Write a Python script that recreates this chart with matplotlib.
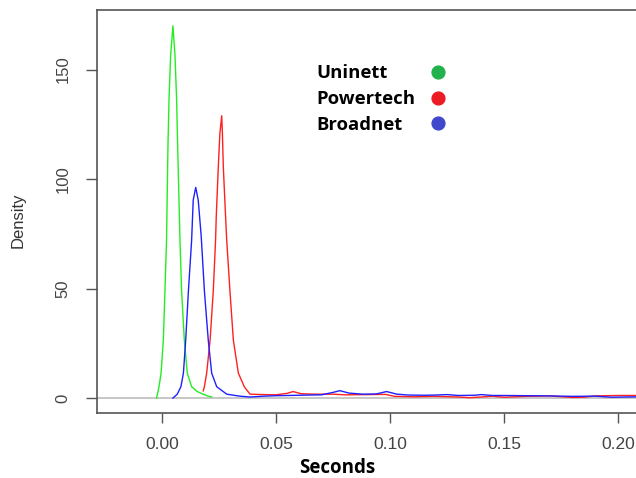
import matplotlib.pyplot as plt

# density curves (seconds, density)
uninett_x = [-0.0024, -0.0020, -0.0013, -0.0004, 0.0006, 0.0013, 0.0020, 0.0026, 0.0031,
             0.0038, 0.0048, 0.0057, 0.0064, 0.0069, 0.0079, 0.0086, 0.0098, 0.0111,
             0.0130, 0.0155, 0.0180, 0.0200, 0.0218]
uninett_y = [0, 1.8, 5.2, 11.4, 26.5, 49, 72, 114, 137,
             156.6, 170, 156.6, 137, 114, 72, 49, 26.5, 11.4,
             5.2, 3.0, 1.8, 1.0, 0.5]

powertech_x = [0.0181, 0.0186, 0.0196, 0.0211, 0.0225, 0.0235, 0.0238, 0.0247, 0.0254,
               0.0262, 0.0265, 0.0269, 0.0279, 0.0284, 0.0298, 0.0313, 0.0335, 0.0361,
               0.0386, 0.045, 0.050, 0.055, 0.0575, 0.061, 0.067, 0.075, 0.080, 0.090,
               0.098, 0.102, 0.110, 0.120, 0.130, 0.135, 0.140, 0.145, 0.150, 0.160,
               0.170, 0.180, 0.185, 0.190, 0.200, 0.210]
powertech_y = [3.3, 5.2, 11.4, 26.5, 49, 72, 82.8, 105.6, 120.9,
               128.9, 120.9, 105.6, 82.8, 72, 49, 26.5, 11.4, 5.2,
               1.8, 1.6, 1.5, 2.2, 3.0, 2.0, 1.8, 1.8, 1.5, 1.6,
               1.7, 0.8, 0.6, 0.8, 0.5, 0.2, 0.5, 0.9, 0.4, 0.8,
               1.0, 0.3, 0.4, 1.0, 1.2, 1.2]

broadnet_x = [0.0048, 0.0067, 0.0083, 0.0094, 0.0104, 0.0116, 0.0130, 0.0137, 0.0148,
              0.0159, 0.0172, 0.0186, 0.0203, 0.0218, 0.0240, 0.0284, 0.0340, 0.0386,
              0.045, 0.050, 0.055, 0.060, 0.065, 0.070, 0.075, 0.078, 0.082, 0.088,
              0.094, 0.0985, 0.103, 0.108, 0.115, 0.120, 0.125, 0.130, 0.137, 0.140,
              0.145, 0.150, 0.160, 0.170, 0.180, 0.190, 0.197, 0.203, 0.210]
broadnet_y = [0, 1.8, 5.2, 11.4, 26.5, 49, 72, 90.4, 96.2,
              90.4, 74, 49, 26.5, 11.4, 5.2, 1.8, 0.9, 0.5,
              0.9, 1.1, 1.2, 1.3, 1.4, 1.5, 2.6, 3.4, 2.3, 1.8,
              1.9, 3.0, 1.8, 1.4, 1.3, 1.4, 1.6, 1.2, 1.3, 1.6,
              1.2, 1.2, 1.1, 1.0, 0.8, 0.9, 0.4, 0.5, 0.6]

names = ['Uninett', 'Powertech', 'Broadnet']
line_colors = ['#22ee22', '#ff2020', '#2020ff']
dot_colors = ['#22b14c', '#ed1c24', '#3f48cc']

x_ticks = [0.00, 0.05, 0.10, 0.15, 0.20]
y_ticks = [0, 50, 100, 150]

fig = plt.figure(figsize=(6.36, 4.78), dpi=100)
ax = fig.add_axes([97 / 636, 1 - 413 / 478, 539 / 636, 403 / 478])

ax.axhline(0, color='#bebebe', linewidth=1.2, zorder=1)
series = [(uninett_x, uninett_y), (powertech_x, powertech_y), (broadnet_x, broadnet_y)]
for (xs, ys), c in zip(series, line_colors):
    ax.plot(xs, ys, color=c, linewidth=1.0, zorder=2)

ax.set_xlim(-0.0285, 0.2079)
ax.set_ylim(-6.8, 177.2)
ax.set_xticks(x_ticks)
ax.set_xticklabels(['%.2f' % v for v in x_ticks])
ax.set_yticks(y_ticks)
ax.set_yticklabels([str(v) for v in y_ticks], rotation=90, va='center')

for s in ['top', 'left', 'bottom']:
    ax.spines[s].set_color('#555555')
    ax.spines[s].set_linewidth(1.2)
ax.spines['right'].set_visible(False)

ax.tick_params(axis='x', length=7, width=1, color='#555555', pad=10,
               labelsize=12.5, labelcolor='#444444')
ax.tick_params(axis='y', length=8, width=1, color='#555555', pad=11,
               labelsize=12, labelcolor='#444444')
for lab in ax.get_xticklabels() + ax.get_yticklabels():
    lab.set_family('Liberation Sans')

fig.text(18 / 636, 1 - 220 / 478, 'Density', rotation=90, ha='center', va='center',
         fontsize=12, color='#333333', family='Liberation Sans')
fig.text(337.5 / 636, 1 - 468 / 478, 'Seconds', ha='center', va='center',
         fontsize=13.5, fontweight='bold', color='black', family='Open Sans')

# legend drawn by hand like the original
base_y = [78.3, 104.3, 130.0]
dot_y = [72.3, 97.7, 123.3]
for name, c, by, dy in zip(names, dot_colors, base_y, dot_y):
    fig.text(316.7 / 636, 1 - by / 478, name, ha='left', va='baseline',
             fontsize=13.3, fontweight='bold', color='black', family='Open Sans')
    ax.scatter([(438.3 - 97) / 539], [(413 - dy) / 403], s=85, color=c,
               transform=ax.transAxes, clip_on=False, zorder=3)

fig.savefig('out.png', dpi=100)
